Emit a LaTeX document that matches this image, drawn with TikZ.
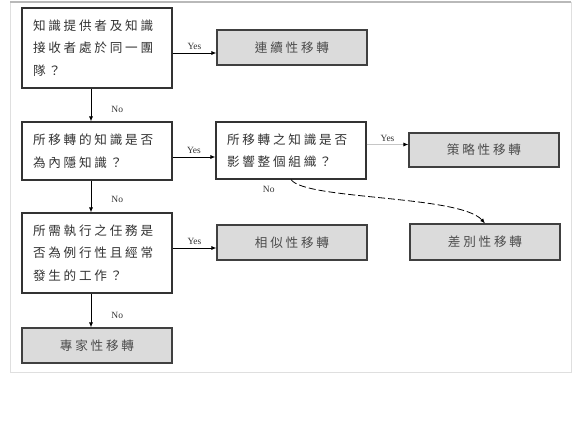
\documentclass[tikz,border=0pt]{standalone}
\usepackage{fontspec}
\setmainfont{Liberation Serif}
\newfontfamily\cjk[LetterSpace=22]{Noto Sans CJK TC}
\usetikzlibrary{arrows.meta,positioning}

\tikzset{
  question/.style={draw=black!80, line width=1.1pt, fill=white, inner xsep=11pt, inner ysep=0pt,
    text width=128pt, align=left, font=\cjk\fontsize{12.6}{22.5}\selectfont, text=black!80},
  transfer/.style={draw=black!75, line width=1.1pt, fill=gray!28, minimum width=150pt, minimum height=35pt,
    inner sep=0pt, font=\cjk\fontsize{12.6}{14}\selectfont, text=black!70},
  arr/.style={-{Latex[length=5pt,width=4pt]}, line width=0.8pt},
  yn/.style={font=\fontsize{9.5}{10}\selectfont, text=black!80, inner sep=2pt}
}

\begin{document}
\begin{tikzpicture}[x=1pt,y=-1pt]
\useasboundingbox (0,0) rectangle (581,430);
% frame
\draw[gray!25, line width=0.8pt] (10,2) rectangle (571,372);
\draw[gray!55, line width=1.6pt] (10,2) -- (571,2);

% questions
\node[question, minimum height=80pt] (team) at (97,48) {知識提供者及知識\\接收者處於同一團\\隊？};
\node[question, minimum height=58pt] (tacit) at (97,151) {所移轉的知識是否\\為內隱知識？};
\node[question, minimum height=57pt] (whole) at (291,150.5) {所移轉之知識是否\\影響整個組織？};
\node[question, minimum height=80pt] (task) at (97,253) {所需執行之任務是\\否為例行性且經常\\發生的工作？};

% transfer types
\node[transfer] (serial) at (292,47.5) {連續性移轉};
\node[transfer, minimum height=34pt] (strategic) at (484,150) {策略性移轉};
\node[transfer] (similar) at (292,242.5) {相似性移轉};
\node[transfer, minimum height=36pt] (differ) at (485,242) {差別性移轉};
\node[transfer] (expert) at (97,345.5) {專家性移轉};

% Yes
\draw[arr] ([yshift=-5pt]team.east) -- ([yshift=-5pt]team.east -| serial.west) node[yn, midway, above=1pt] {Yes};
\draw[arr] ([yshift=-6pt]tacit.east) -- ([yshift=-6pt]tacit.east -| whole.west) node[yn, midway, above=1pt] {Yes};
\draw[arr, draw=gray!45, -{Latex[length=5pt,width=4pt,color=black]}] ([yshift=6pt]whole.east) -- ([yshift=6pt]whole.east -| strategic.west) node[yn, midway, above=1pt] {Yes};
\draw[arr] ([yshift=5pt]task.east) -- ([yshift=5pt]task.east -| similar.west) node[yn, midway, above=1pt] {Yes};

% No
\draw[arr] ([xshift=-6pt]team.south) -- ([xshift=-6pt]tacit.north) node[yn, midway, right=18pt, yshift=-4pt] {No};
\draw[arr] ([xshift=-6pt]tacit.south) -- ([xshift=-6pt]task.north) node[yn, midway, right=18pt, yshift=-3pt] {No};
\draw[arr] ([xshift=-6pt]task.south) -- ([xshift=-6pt]expert.north) node[yn, midway, right=18pt, yshift=-5pt] {No};
\draw[arr, dash pattern=on 7pt off 3pt] (whole.south) .. controls (305,200) and (460,195) .. (differ.north)
  node[yn, pos=0, anchor=north east, xshift=-14pt, yshift=-4pt] {No};
\end{tikzpicture}
\end{document}
